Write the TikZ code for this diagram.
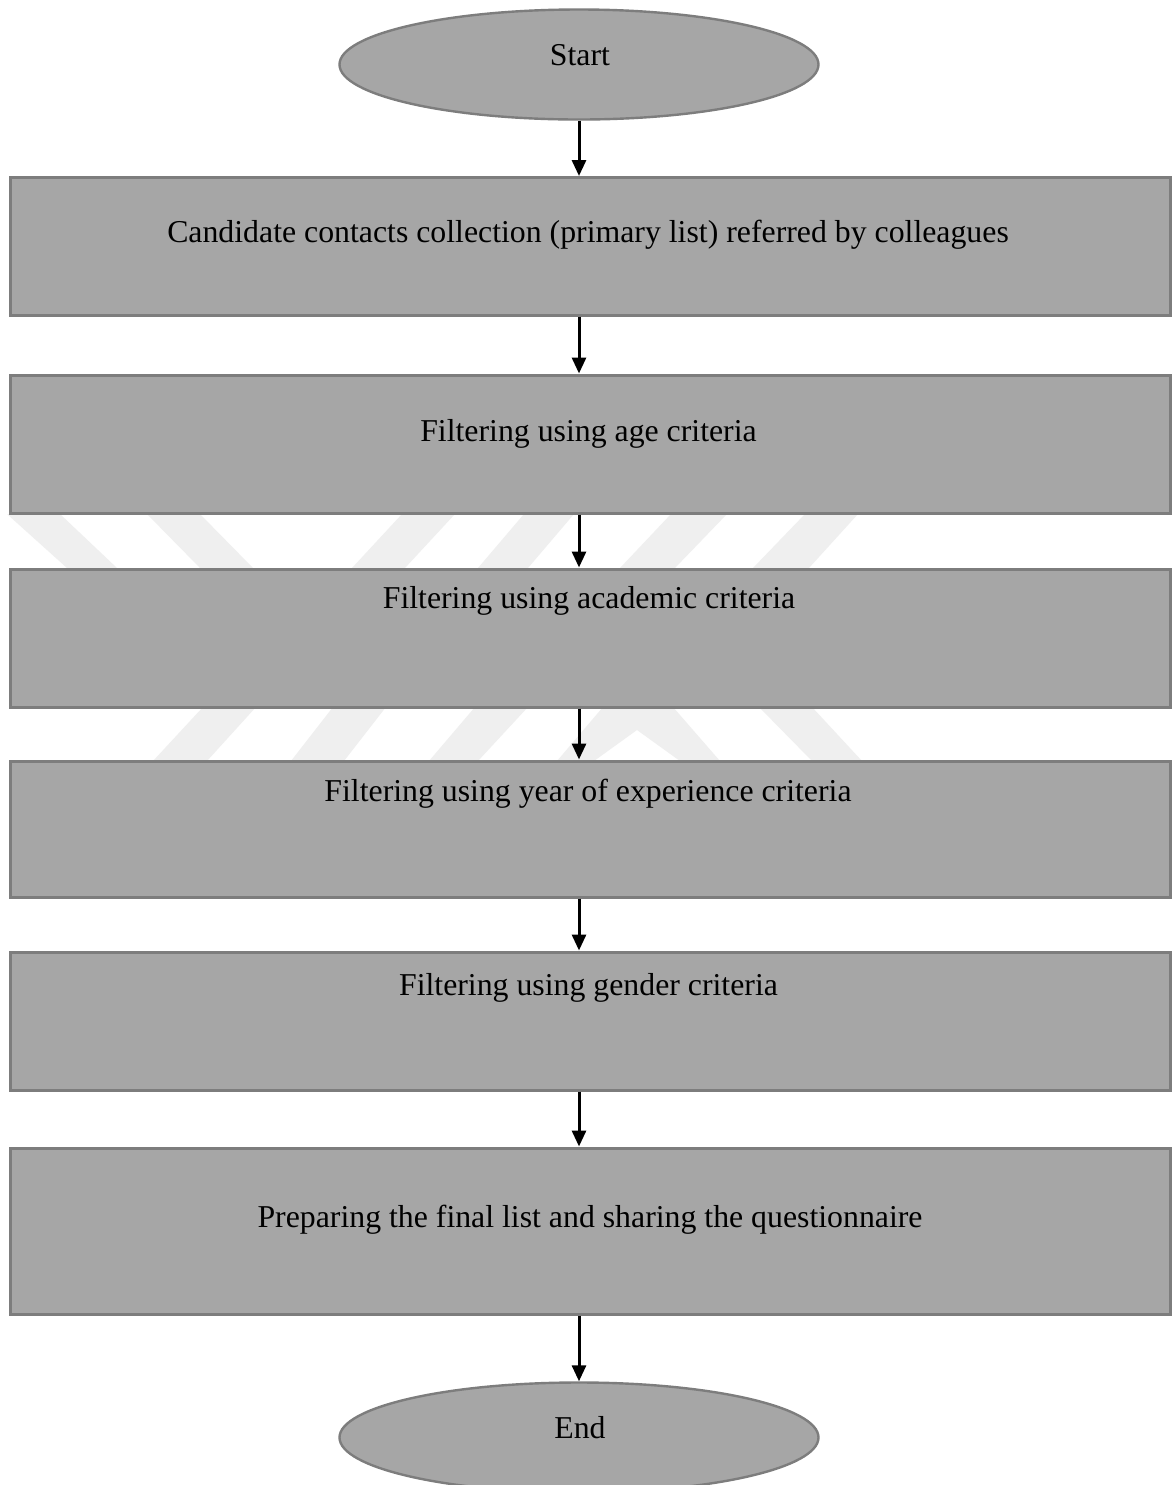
\documentclass[tikz,border=0pt]{standalone}
\usepackage{fontspec}
\setmainfont{Liberation Serif}
\usetikzlibrary{shapes.geometric,arrows.meta}
\definecolor{boxfill}{RGB}{166,166,166}
\definecolor{boxline}{RGB}{125,125,125}
\definecolor{wmark}{RGB}{239,239,239}
\begin{document}
\begin{tikzpicture}[x=0.5pt,y=-0.5pt,
  box/.style={draw=boxline,fill=boxfill,line width=1.5pt,rectangle,inner sep=0pt,minimum width=580pt},
  term/.style={draw=boxline,fill=boxfill,line width=1.2pt,ellipse,inner sep=0pt,minimum width=239.5pt,minimum height=55pt},
  lbl/.style={anchor=base,inner sep=0pt,font=\fontsize{15.9}{19}\selectfont},
  arr/.style={line width=1.5pt,-{Triangle[width=7pt,length=8pt]}},
  wm/.style={fill=wmark,draw=none}]
\useasboundingbox (0,0) rectangle (1174,1485);
\fill[white] (0,0) rectangle (1174,1485);
% watermark pieces (gap 1)
\fill[wm] (7,514) -- (60,514) -- (117,568) -- (67,568) -- cycle;
\fill[wm] (147,514) -- (200,514) -- (253,568) -- (200,568) -- cycle;
\fill[wm] (402,514) -- (455,514) -- (405,568) -- (352,568) -- cycle;
\fill[wm] (524,514) -- (574,514) -- (528,568) -- (478,568) -- cycle;
\fill[wm] (671,514) -- (727,514) -- (675,568) -- (620,568) -- cycle;
\fill[wm] (805,514) -- (858,514) -- (809,568) -- (753,568) -- cycle;
% watermark pieces (gap 2)
\fill[wm] (203,707) -- (256,707) -- (207,761) -- (153,761) -- cycle;
\fill[wm] (333,707) -- (386,707) -- (344,761) -- (291,761) -- cycle;
\fill[wm] (475,707) -- (528,707) -- (478,761) -- (429,761) -- cycle;
\fill[wm] (557,761) -- (603,707) -- (673,707) -- (720,761) -- (680,761) -- (637,730) -- (594,761) -- cycle;
\fill[wm] (759,707) -- (812,707) -- (862,761) -- (812,761) -- cycle;
% terminals and boxes
\node[term] (start) at (579,64.5) {};
\node[box,minimum height=68.75pt] (b1) at (590,246.25) {};
\node[box,minimum height=69pt] (b2) at (590,444) {};
\node[box,minimum height=69pt] (b3) at (590,638) {};
\node[box,minimum height=68pt] (b4) at (590,829) {};
\node[box,minimum height=69pt] (b5) at (590,1021) {};
\node[box,minimum height=83pt] (b6) at (590,1231) {};
\node[term] (end) at (579,1437.5) {};
% texts
\node[lbl] (tstart) at (580,65) {Start};
\node[lbl] (t1) at (588,242) {Candidate contacts collection (primary list) referred by colleagues};
\node[lbl] (t2) at (588.5,441) {Filtering using age criteria};
\node[lbl] (t3) at (589,608) {Filtering using academic criteria};
\node[lbl] (t4) at (588,801) {Filtering using year of experience criteria};
\node[lbl] (t5) at (588.5,995) {Filtering using gender criteria};
\node[lbl] (t6) at (590,1227) {Preparing the final list and sharing the questionnaire};
\node[lbl] (tend) at (580,1438) {End};
% connectors
\draw[arr] (start.south) -- (start.south |- b1.north);
\draw[arr] (b1.south -| start.south) -- (start.south |- b2.north);
\draw[arr] (b2.south -| start.south) -- (start.south |- b3.north);
\draw[arr] (b3.south -| start.south) -- (start.south |- b4.north);
\draw[arr] (b4.south -| start.south) -- (start.south |- b5.north);
\draw[arr] (b5.south -| start.south) -- (start.south |- b6.north);
\draw[arr] (b6.south -| end.north) -- (end.north);
\end{tikzpicture}
\end{document}
